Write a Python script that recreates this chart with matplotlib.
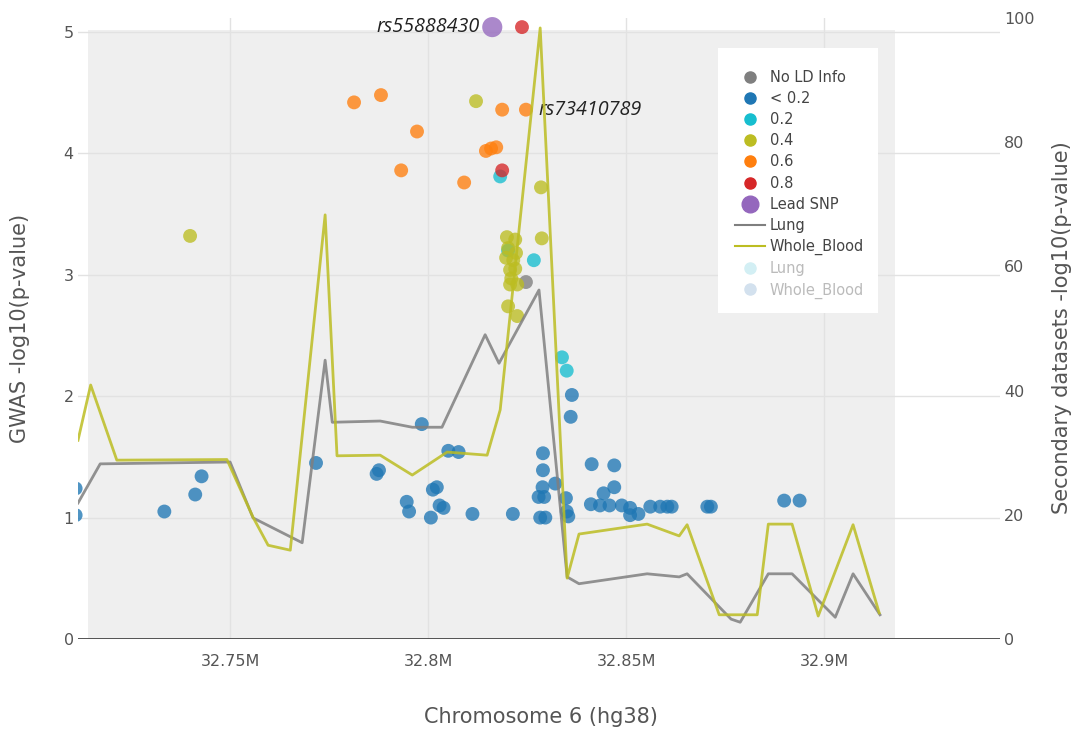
import matplotlib

matplotlib.use("Agg")

import matplotlib.pyplot as plt
from matplotlib.lines import Line2D
from matplotlib.patches import Rectangle
from matplotlib.ticker import FuncFormatter

plt.rcParams["font.family"] = ["DejaVu Sans"]

# GWAS points (position in Mb, -log10 p)
nold_x = [32.8247]
nold_y = [2.94]

low_x = [32.7110, 32.7110, 32.7334, 32.7412, 32.7428, 32.7717, 32.7870, 32.7876,
         32.7984, 32.7946, 32.7952, 32.8007, 32.8012, 32.8022, 32.8029, 32.8039,
         32.8051, 32.8077, 32.8112, 32.8214, 32.8290, 32.8290, 32.8289, 32.8279,
         32.8293, 32.8283, 32.8296, 32.8321, 32.8348, 32.8350, 32.8354, 32.8363,
         32.8360, 32.8413, 32.8470, 32.8443, 32.8411, 32.8470, 32.8434, 32.8458,
         32.8489, 32.8510, 32.8510, 32.8531, 32.8561, 32.8586, 32.8604, 32.8615,
         32.8705, 32.8714, 32.8899, 32.8938]
low_y = [1.24, 1.02, 1.05, 1.19, 1.34, 1.45, 1.36, 1.39,
         1.77, 1.13, 1.05, 1.00, 1.23, 1.25, 1.10, 1.08,
         1.55, 1.54, 1.03, 1.03, 1.53, 1.39, 1.25, 1.17,
         1.17, 1.00, 1.00, 1.28, 1.16, 1.05, 1.01, 2.01,
         1.83, 1.44, 1.43, 1.20, 1.11, 1.25, 1.10, 1.10,
         1.10, 1.08, 1.02, 1.03, 1.09, 1.09, 1.09, 1.09,
         1.09, 1.09, 1.14, 1.14]

ld02_x = [32.8182, 32.8202, 32.8267, 32.8338, 32.8350]
ld02_y = [3.81, 3.20, 3.12, 2.32, 2.21]

ld04_x = [32.7399, 32.8121, 32.8285, 32.8287, 32.8199, 32.8220, 32.8202, 32.8222,
          32.8197, 32.8215, 32.8207, 32.8220, 32.8210, 32.8207, 32.8225, 32.8202,
          32.8225]
ld04_y = [3.32, 4.43, 3.72, 3.30, 3.31, 3.29, 3.22, 3.18,
          3.14, 3.12, 3.04, 3.05, 2.97, 2.92, 2.92, 2.74,
          2.66]

ld06_x = [32.7813, 32.7881, 32.7972, 32.7932, 32.8091, 32.8146, 32.8159, 32.8172,
          32.8187, 32.8247]
ld06_y = [4.42, 4.48, 4.18, 3.86, 3.76, 4.02, 4.04, 4.05, 4.36, 4.36]

ld08_x = [32.8237, 32.8187]
ld08_y = [5.04, 3.86]

lead_x = [32.8162]
lead_y = [5.04]

# secondary datasets (-log10 p)
lung_x = [32.7116, 32.7172, 32.7500, 32.7558, 32.7682, 32.7740, 32.7758, 32.7879,
          32.7960, 32.8035, 32.8144, 32.8179, 32.8280, 32.8351, 32.8381, 32.8553,
          32.8634, 32.8654, 32.8765, 32.8788, 32.8859, 32.8919, 32.9028, 32.9073,
          32.9141]
lung_y = [21.9, 28.2, 28.5, 19.5, 15.5, 44.9, 34.9, 35.1,
          34.1, 34.1, 49.0, 44.4, 56.2, 10.0, 8.9, 10.5,
          10.0, 10.5, 3.2, 2.7, 10.5, 10.5, 3.5, 10.5,
          3.9]

blood_x = [32.7116, 32.7148, 32.7214, 32.7492, 32.7558, 32.7596, 32.7652, 32.7740,
           32.7770, 32.7879, 32.7960, 32.8048, 32.8149, 32.8182, 32.8283, 32.8351,
           32.8381, 32.8553, 32.8634, 32.8654, 32.8735, 32.8831, 32.8859, 32.8919,
           32.8985, 32.9073, 32.9139]
blood_y = [32.0, 40.9, 28.8, 28.9, 19.6, 15.1, 14.3, 68.3,
           29.5, 29.6, 26.4, 30.1, 29.6, 36.9, 98.4, 9.8,
           16.9, 18.5, 16.6, 18.4, 3.9, 3.9, 18.5, 18.5,
           3.7, 18.4, 4.2]

x_ticks = [32.75, 32.8, 32.85, 32.9]

fig = plt.figure(figsize=(10.72, 7.33), dpi=100)
ax = fig.add_axes([78 / 1072, 94 / 733, 922 / 1072, 621 / 733])
ax2 = ax.twinx()

ax.set_xlim(32.7116, 32.9444)
ax.set_ylim(0, 5.115)
ax2.set_ylim(0, 100)

ax.add_patch(Rectangle((32.7141, 0), 32.9179 - 32.7141, 5.02,
                       facecolor="#efefef", edgecolor="none", zorder=0))
ax.set_axisbelow(True)
ax.grid(color="#e2e2e2", linewidth=1)

groups = [
    (nold_x, nold_y, "#7f7f7f"),
    (low_x, low_y, "#1f77b4"),
    (ld02_x, ld02_y, "#17becf"),
    (ld04_x, ld04_y, "#bcbd22"),
    (ld06_x, ld06_y, "#ff7f0e"),
]
for xs, ys, color in groups:
    ax.scatter(xs, ys, s=100, color=color, alpha=0.78, edgecolors="none", zorder=2)
ax.scatter(ld08_x, ld08_y, s=100, color="#d62728", alpha=0.78,
           edgecolors="none", zorder=2, clip_on=False)
ax.scatter(lead_x, lead_y, s=210, color="#9467bd", alpha=0.78,
           edgecolors="none", zorder=2, clip_on=False)

ax.axhline(0, color="#444444", linewidth=2, zorder=3)

ax2.plot(lung_x, lung_y, color="#7f7f7f", linewidth=2, alpha=0.85)
ax2.plot(blood_x, blood_y, color="#bcbd22", linewidth=2, alpha=0.85)

ax.annotate("rs55888430", (lead_x[0], lead_y[0]), xytext=(-9, 0),
            textcoords="offset points", ha="right", va="center",
            fontsize=14.2, style="italic", family="Open Sans",
            color="#222222", annotation_clip=False)
ax.annotate("rs73410789", (ld06_x[-1], ld06_y[-1]), xytext=(9, 0),
            textcoords="offset points", ha="left", va="center",
            fontsize=14.2, style="italic", family="Open Sans", color="#222222")

ax.set_xticks(x_ticks)
ax.xaxis.set_major_formatter(FuncFormatter(lambda v, p: f"{v:g}M"))
ax.set_yticks([0, 1, 2, 3, 4, 5])
ax2.set_yticks([0, 20, 40, 60, 80, 100])
ax.tick_params(axis="x", length=0, pad=11, labelsize=11.5, labelcolor="#555555")
ax.tick_params(axis="y", length=0, pad=3, labelsize=11.5, labelcolor="#555555")
ax2.tick_params(axis="y", length=0, pad=3, labelsize=11.5, labelcolor="#555555")
for a in (ax, ax2):
    for spine in a.spines.values():
        spine.set_visible(False)

fig.text(541 / 1072, 1 - 717 / 733, "Chromosome 6 (hg38)", ha="center",
         va="center", fontsize=15, color="#555555")
fig.text(20 / 1072, 1 - 328 / 733, "GWAS -log10(p-value)", ha="center",
         va="center", rotation=90, fontsize=15, color="#555555")
fig.text(1062 / 1072, 1 - 328 / 733, "Secondary datasets -log10(p-value)",
         ha="center", va="center", rotation=90, fontsize=15, color="#555555")

# legend box drawn separately so its size matches the original
fig.add_artist(Rectangle((718 / 1072, 1 - 313 / 733), 160 / 1072, 265 / 733,
                         transform=fig.transFigure, facecolor="white",
                         edgecolor="none", zorder=2))

handles = [
    Line2D([], [], marker="o", ls="", color="#7f7f7f", markersize=8),
    Line2D([], [], marker="o", ls="", color="#1f77b4", markersize=8),
    Line2D([], [], marker="o", ls="", color="#17becf", markersize=8),
    Line2D([], [], marker="o", ls="", color="#bcbd22", markersize=8),
    Line2D([], [], marker="o", ls="", color="#ff7f0e", markersize=8),
    Line2D([], [], marker="o", ls="", color="#d62728", markersize=8),
    Line2D([], [], marker="o", ls="", color="#9467bd", markersize=12),
    Line2D([], [], color="#7f7f7f", linewidth=1.5),
    Line2D([], [], color="#bcbd22", linewidth=1.5),
    Line2D([], [], marker="o", ls="", color="#d3eff4", markersize=8),
    Line2D([], [], marker="o", ls="", color="#d3e1ee", markersize=8),
]
labels = ["No LD Info", "< 0.2", "0.2", "0.4", "0.6", "0.8", "Lead SNP",
          "Lung", "Whole_Blood", "Lung", "Whole_Blood"]
leg = fig.legend(handles, labels, loc="upper left",
                 bbox_to_anchor=(735 / 1072, 1 - 70 / 733), frameon=False,
                 fontsize=10.5, handlelength=2.05, handletextpad=0.35,
                 labelspacing=0.42, borderpad=0, borderaxespad=0)
leg.set_zorder(3)
for i, text in enumerate(leg.get_texts()):
    text.set_color("#bbbbbb" if i >= 9 else "#444444")

fig.savefig("out.png", dpi=100)
